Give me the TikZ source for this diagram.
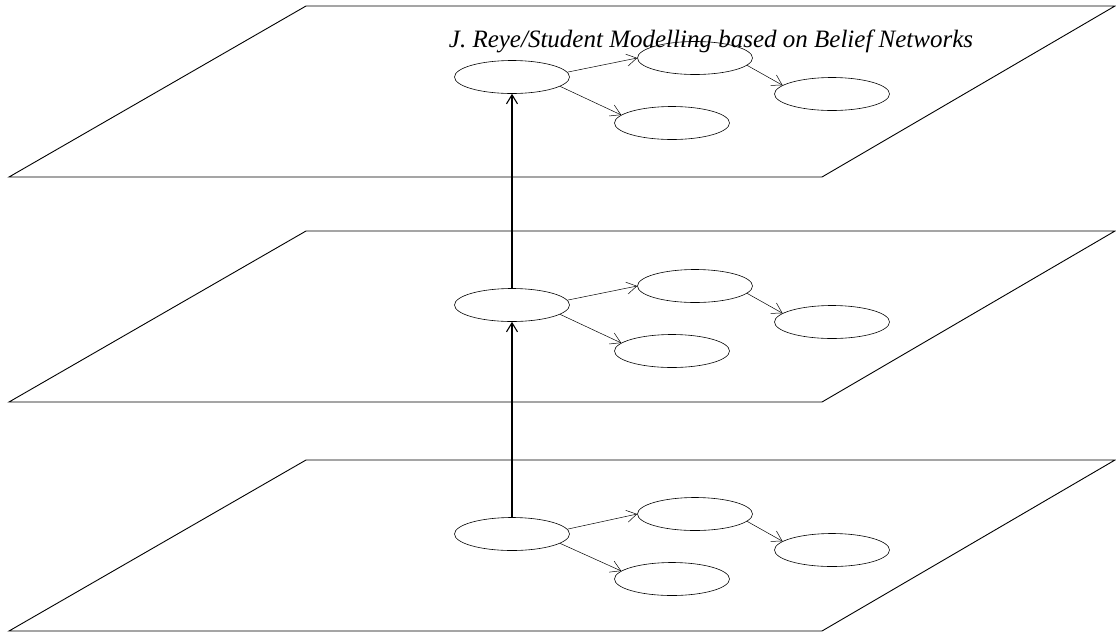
\documentclass[tikz,border=0pt]{standalone}
\usepackage{amsmath, amssymb, tikz, graphicx}
\usepackage{xcolor}
\usepackage{fontspec}
\setmainfont{Liberation Serif}
\usetikzlibrary{shapes.geometric, arrows.meta}

\tikzset{
    nodo/.style={draw, ellipse, minimum width=115pt, minimum height=33pt, inner sep=0pt, line width=0.6pt},
    plano/.style={line width=0.9pt},
    flecha/.style={line width=0.5pt, -{Straight Barb[length=10pt,width=12pt]}},
    subida/.style={line width=1.1pt, -{Straight Barb[length=9pt,width=11pt]}}
}

\begin{document}
\begin{tikzpicture}[x=1pt, y=-1pt]
    \useasboundingbox (0,0) rectangle (1116,633);

    % Definir los planos
    \draw [plano] (9,177) -- (822,177) -- (1115,6) -- (306,6) -- cycle;
    \draw [plano] (9,402) -- (822,402) -- (1115,231) -- (306,231) -- cycle;
    \draw [plano] (9,631) -- (822,631) -- (1115,460) -- (306,460) -- cycle;

    % Titulo
    \node [anchor=base] (T) at (711,47) {\itshape\fontsize{25}{28}\selectfont J. Reye/Student Modelling based on Belief Networks};

    % Nodos del plano superior
    \node [nodo] (A1) at (512,77) {};
    \node [nodo] (B1) at (695,58) {};
    \node [nodo] (C1) at (832,94) {};
    \node [nodo] (D1) at (672,123) {};

    % Nodos del plano medio
    \node [nodo] (A2) at (512,305) {};
    \node [nodo] (B2) at (695,286) {};
    \node [nodo] (C2) at (832,322) {};
    \node [nodo] (D2) at (672,351) {};

    % Nodos del plano inferior
    \node [nodo] (A3) at (512,534) {};
    \node [nodo] (B3) at (695,514) {};
    \node [nodo] (C3) at (832,550) {};
    \node [nodo] (D3) at (672,579) {};

    % Flechas dentro de cada plano
    \draw [flecha] (A1.5) -- (B1.west);
    \draw [flecha] (A1.-11) -- (D1.171);
    \draw [flecha] (B1.-8) -- (C1.170);
    \draw [flecha] (A2.5) -- (B2.west);
    \draw [flecha] (A2.-11) -- (D2.171);
    \draw [flecha] (B2.-8) -- (C2.170);
    \draw [flecha] (A3.5) -- (B3.west);
    \draw [flecha] (A3.-11) -- (D3.171);
    \draw [flecha] (B3.-8) -- (C3.170);

    % Flechas entre planos
    \draw [subida] (A3) -- (A2);
    \draw [subida] (A2) -- (A1);

\end{tikzpicture}
\end{document}
